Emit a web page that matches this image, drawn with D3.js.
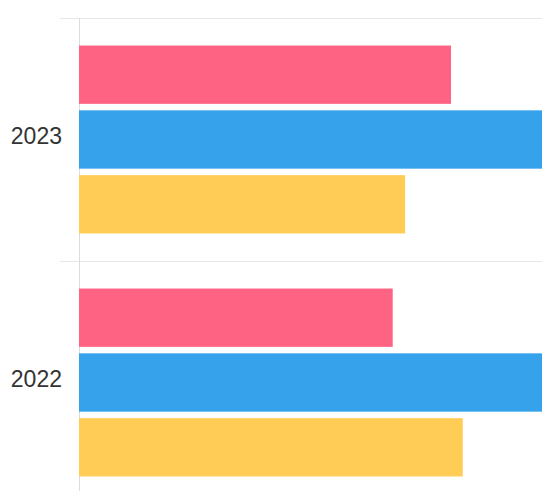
<!DOCTYPE html>
<html>
<head>
<meta charset="utf-8">
<script src="https://cdn.jsdelivr.net/npm/d3@7/dist/d3.min.js"></script>
<style>
html,body{margin:0;padding:0;background:#fff;overflow:hidden;}
svg{display:block;}
</style>
</head>
<body>
<script>
// Data
const categories = ["2023", "2022"];
const seriesNames = ["A", "B", "C"];
const seriesColors = ["#ff6384", "#36a2eb", "#ffcd56"];
const valuesA = [60.0, 50.6];
const valuesB = [82.0, 84.0];
const valuesC = [52.6, 61.9];
const xDomain = [0, 100];

const W = 542, H = 491;
const svg = d3.select("body").append("svg").attr("width", W).attr("height", H);

const plotLeft = 79, plotTop = 18, plotBottom = 504, plotRight = 699;
const x = d3.scaleLinear().domain(xDomain).range([plotLeft, plotRight]);
const y = d3.scaleBand().domain(categories).range([plotTop, plotBottom]).paddingInner(0).paddingOuter(0);
// category percentage 0.8, bar percentage 0.9
const inner = d3.scaleBand().domain(seriesNames).range([y.bandwidth() * 0.1, y.bandwidth() * 0.9]);

// gridlines (category boundaries)
const gridYs = [plotTop, plotTop + y.bandwidth(), plotBottom];
svg.append("g").selectAll("line").data(gridYs).join("line")
  .attr("x1", 60).attr("x2", W)
  .attr("y1", d => d + 0.5).attr("y2", d => d + 0.5)
  .attr("stroke", "#e6e6e6").attr("stroke-width", 1);

// axis line
svg.append("line").attr("x1", plotLeft + 0.5).attr("x2", plotLeft + 0.5)
  .attr("y1", plotTop).attr("y2", H)
  .attr("stroke", "#dcdcdc").attr("stroke-width", 1);

// bars
const series = [valuesA, valuesB, valuesC];
const g = svg.append("g");
series.forEach((vals, si) => {
  g.selectAll(null).data(categories).join("rect")
    .attr("x", x(0))
    .attr("y", (c) => y(c) + inner(seriesNames[si]) + inner.bandwidth() * 0.05)
    .attr("width", (c, i) => x(vals[i]) - x(0))
    .attr("height", inner.bandwidth() * 0.9)
    .attr("fill", seriesColors[si]);
});

// category labels
svg.append("g").selectAll("text").data(categories).join("text")
  .attr("x", 62)
  .attr("y", c => y(c) + y.bandwidth() / 2 - 1.5)
  .attr("text-anchor", "end")
  .attr("dominant-baseline", "middle")
  .attr("font-family", "Liberation Sans, Arial, sans-serif")
  .attr("font-size", 23)
  .attr("fill", "#333")
  .text(d => d);
</script>
</body>
</html>
